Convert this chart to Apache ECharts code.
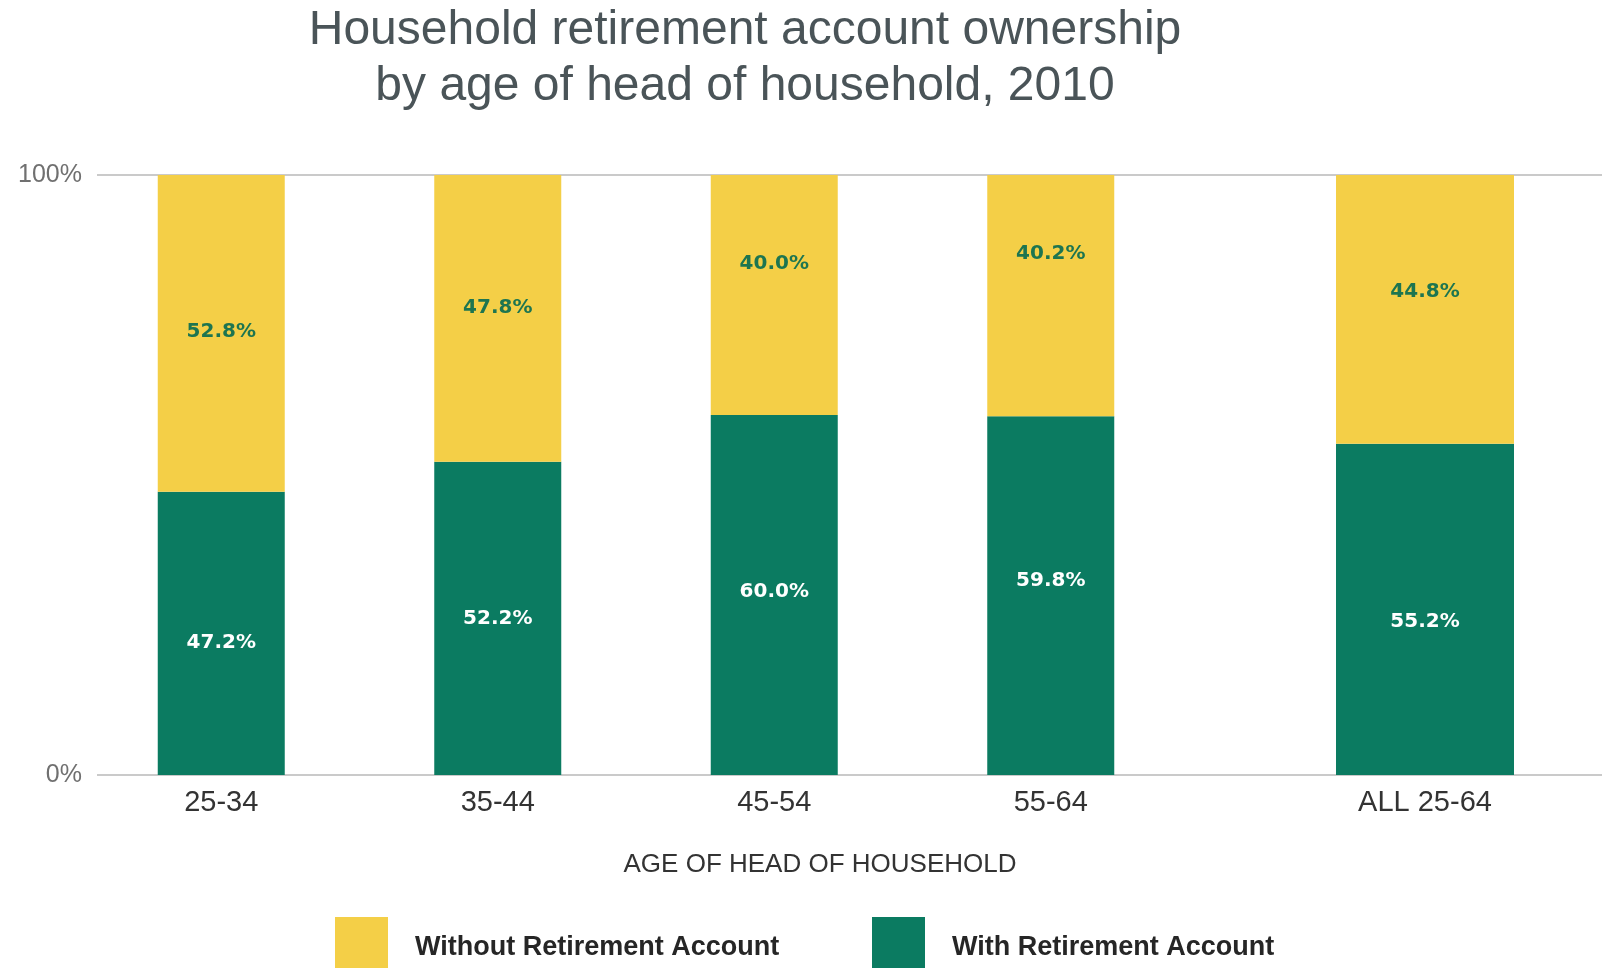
<!DOCTYPE html>
<html>
<head>
<meta charset="utf-8">
<title>Household retirement account ownership, 2010</title>
<script src="https://cdn.jsdelivr.net/npm/echarts@6/dist/echarts.min.js"></script>
<style>
  html, body { margin: 0; padding: 0; background: #ffffff; }
  #main { width: 1605px; height: 968px; }
</style>
</head>
<body>
<div id="main"></div>
<script>
// Age bands and the pooled total, shares of households (percent)
const ageGroups = ['25-34', '35-44', '45-54', '55-64'];
const overallGroup = ['ALL 25-64'];
const withAccount = [47.2, 52.2, 60.0, 59.8];
const withoutAccount = [52.8, 47.8, 40.0, 40.2];
const overallWith = [55.2];
const overallWithout = [44.8];
const yTicks = [0, 100];

// Small vertical nudges for the in-bar value labels (px)
const withoutLabelNudge = [-2, -11, -31, -42];
const withLabelNudge = [9, 0, -3, -15];
const overallWithoutNudge = [-18];
const overallWithNudge = [12];

const YELLOW = '#F4CF47';
const GREEN = '#0B7B61';
const PLOT_TOP = 175;
const PLOT_HEIGHT = 600;
const SANS = 'Liberation Sans, Arial, sans-serif';

const chart = echarts.init(document.getElementById('main'));

function withNudges(values, nudges) {
  return values.map((v, i) => ({ value: v, label: { offset: [0, nudges[i]] } }));
}

function valueLabel(color) {
  return {
    show: true,
    position: 'inside',
    formatter: p => p.value.toFixed(1) + '%',
    fontFamily: 'DejaVu Sans, sans-serif',
    fontWeight: 'bold',
    fontSize: 20,
    color: color
  };
}

function barSeries(name, axisIndex, stack, values, nudges, color, labelColor, width) {
  return {
    name: name,
    type: 'bar',
    stack: stack,
    xAxisIndex: axisIndex,
    yAxisIndex: axisIndex,
    barWidth: width,
    itemStyle: { color: color },
    label: valueLabel(labelColor),
    emphasis: { disabled: true },
    data: withNudges(values, nudges)
  };
}

function legendFor(name, left) {
  return {
    data: [name],
    left: left,
    top: 917,
    padding: 0,
    icon: 'rect',
    itemWidth: 53,
    itemHeight: 62,
    selectedMode: false,
    textStyle: {
      fontFamily: SANS,
      fontWeight: 'bold',
      fontSize: 27,
      color: '#262626',
      padding: [0, 0, 0, 22]
    }
  };
}

const yMin = yTicks[0];
const yMax = yTicks[yTicks.length - 1];
const yStep = yTicks[1] - yTicks[0];

chart.setOption({
  backgroundColor: '#ffffff',
  animation: false,
  title: [
    {
      text: 'Household retirement account ownership\nby age of head of household, 2010',
      left: 745,
      top: 3,
      padding: 0,
      textAlign: 'center',
      textStyle: {
        fontFamily: SANS,
        fontWeight: 'normal',
        fontSize: 48,
        lineHeight: 56,
        color: '#4a5458'
      }
    },
    {
      text: 'AGE OF HEAD OF HOUSEHOLD',
      left: 820,
      top: 852,
      padding: 0,
      textAlign: 'center',
      textStyle: {
        fontFamily: SANS,
        fontWeight: 'normal',
        fontSize: 26,
        lineHeight: 26,
        color: '#333333'
      }
    }
  ],
  legend: [
    legendFor('Without Retirement Account', 335),
    legendFor('With Retirement Account', 872)
  ],
  grid: [
    // full-width frame carrying the 0% / 100% rules
    { left: 97, right: 3, top: PLOT_TOP, height: PLOT_HEIGHT },
    // the four age bands
    { left: 83, width: 1106, top: PLOT_TOP, height: PLOT_HEIGHT },
    // the pooled 25-64 bar
    { left: 1275, width: 300, top: PLOT_TOP, height: PLOT_HEIGHT }
  ],
  xAxis: [
    { gridIndex: 0, type: 'category', data: [''], show: false },
    {
      gridIndex: 1, type: 'category', data: ageGroups,
      axisLine: { show: false }, axisTick: { show: false },
      axisLabel: { fontFamily: SANS, fontSize: 29, color: '#333333', margin: 13 }
    },
    {
      gridIndex: 2, type: 'category', data: overallGroup,
      axisLine: { show: false }, axisTick: { show: false },
      axisLabel: { fontFamily: SANS, fontSize: 29, color: '#333333', margin: 13 }
    }
  ],
  yAxis: [
    {
      gridIndex: 0, type: 'value', min: yMin, max: yMax, interval: yStep,
      axisLine: { show: false }, axisTick: { show: false },
      axisLabel: {
        formatter: v => v + '%',
        fontFamily: SANS, fontSize: 25, color: '#707070', margin: 15
      },
      splitLine: { lineStyle: { color: '#b9b9b9', width: 1.5 } }
    },
    { gridIndex: 1, type: 'value', min: yMin, max: yMax, show: false, splitLine: { show: false } },
    { gridIndex: 2, type: 'value', min: yMin, max: yMax, show: false, splitLine: { show: false } }
  ],
  series: [
    barSeries('With Retirement Account', 1, 'ages', withAccount, withLabelNudge, GREEN, '#ffffff', 127),
    barSeries('Without Retirement Account', 1, 'ages', withoutAccount, withoutLabelNudge, YELLOW, '#1d7550', 127),
    barSeries('With Retirement Account', 2, 'all', overallWith, overallWithNudge, GREEN, '#ffffff', 178),
    barSeries('Without Retirement Account', 2, 'all', overallWithout, overallWithoutNudge, YELLOW, '#1d7550', 178)
  ]
});
</script>
</body>
</html>
